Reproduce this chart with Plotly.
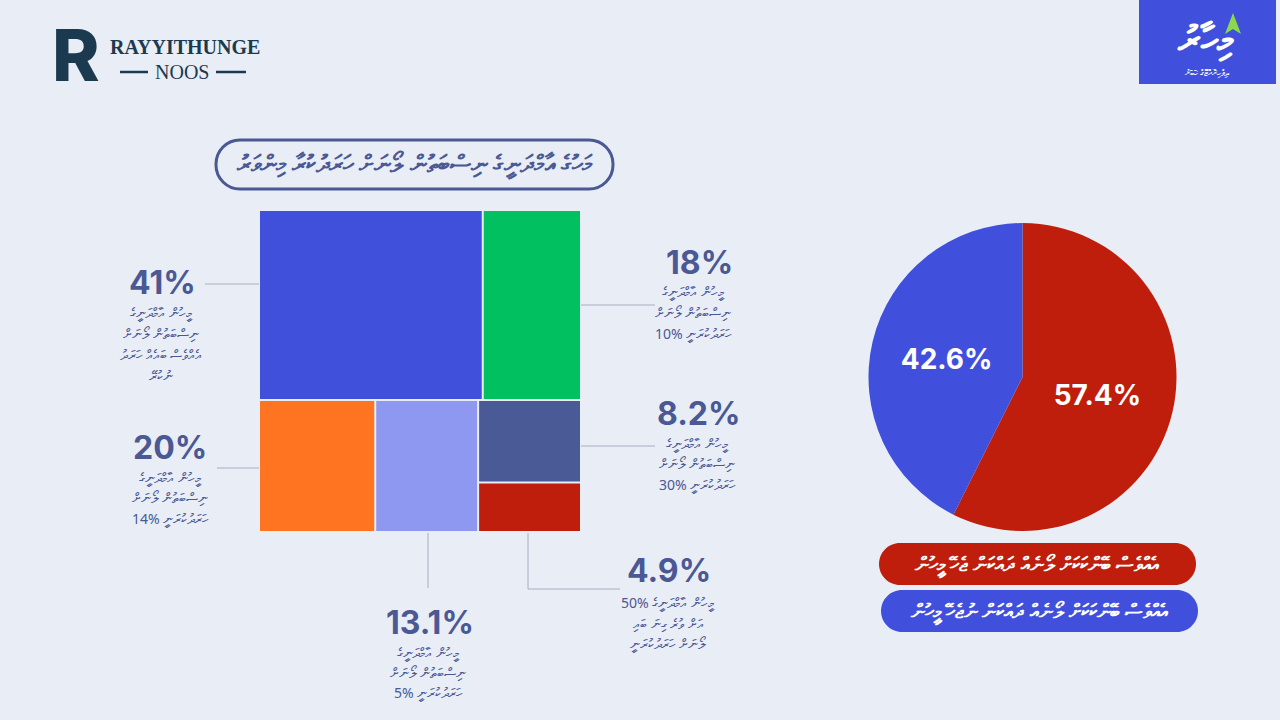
import plotly.graph_objects as go

W, H = 1280, 720
BG = "#E9EDF6"
SLATE = "#4A5894"
NAVY = "#1B3A4F"
RED = "#BE1E0B"
BLUE = "#4150DC"

# ---------------- data ----------------
TITLE = "މަހުގެ އާމްދަނީގެ ނިސްބަތުން ލޯނަށް ހަރަދުކުރާ މިންވަރު"

tile_ids = ["all", "top", "bottom", "t41", "t18", "t20", "t131", "stack", "t82", "t49"]
tile_parents = ["", "all", "all", "top", "top", "bottom", "bottom", "bottom", "stack", "stack"]
# tile areas (share of the square)
tile_area = [0, 0, 0, 41, 18, 14.8, 13.1, 0, 8.2, 4.9]
tile_colors = [BG, BG, BG, "#4050DB", "#00C060", "#FF7420", "#8F98F0", BG, "#4A5A96", "#BE1E0B"]

share_labels = ["41%", "18%", "20%", "13.1%", "8.2%", "4.9%"]
share_notes = [
    ["މީހުން އާމްދަނީގެ", "ނިސްބަތުން ލޯނަށް", "އެއްވެސް ބައެއް ހަރަދު", "ނުކުރޭ"],
    ["މީހުން އާމްދަނީގެ", "ނިސްބަތުން ލޯނަށް", "10% ހަރަދުކުރަނީ"],
    ["މީހުން އާމްދަނީގެ", "ނިސްބަތުން ލޯނަށް", "14% ހަރަދުކުރަނީ"],
    ["މީހުން އާމްދަނީގެ", "ނިސްބަތުން ލޯނަށް", "5% ހަރަދުކުރަނީ"],
    ["މީހުން އާމްދަނީގެ", "ނިސްބަތުން ލޯނަށް", "30% ހަރަދުކުރަނީ"],
    ["50% މީހުން އާމްދަނީގެ", "އަށް ވުރެ ގިނަ ބައި", "ލޯނަށް ހަރަދުކުރަނީ"],
]

pie_labels = [
    "އެއްވެސް ބޭންކަކަށް ލޯނެއް ދައްކަން ޖެހޭ މީހުން",
    "އެއްވެސް ބޭންކަކަށް ލޯނެއް ދައްކަން ނުޖެހޭ މީހުން",
]
pie_values = [57.4, 42.6]
pie_text = ["57.4%", "42.6%"]
pie_colors = [RED, BLUE]


def px(x):
    return x / W


def py(y):
    return 1 - y / H


fig = go.Figure()

fig.add_trace(go.Treemap(
    ids=tile_ids,
    labels=tile_ids,
    parents=tile_parents,
    values=tile_area,
    branchvalues="remainder",
    sort=False,
    marker=dict(colors=tile_colors, line=dict(width=0),
                pad=dict(t=0, l=0, r=0, b=0)),
    tiling=dict(packing="dice-slice", pad=2),
    pathbar=dict(visible=False),
    textinfo="none",
    hoverinfo="skip",
    domain=dict(x=[px(260), px(580)], y=[py(531), py(211)]),
))

fig.add_trace(go.Pie(
    labels=pie_labels,
    values=pie_values,
    text=pie_text,
    textinfo="text",
    textposition="inside",
    insidetextorientation="horizontal",
    textfont=dict(family="Inter", size=28, color="white", weight=700),
    marker=dict(colors=pie_colors, line=dict(width=0)),
    sort=False,
    direction="clockwise",
    rotation=0,
    showlegend=False,
    hoverinfo="skip",
    domain=dict(x=[px(868), px(1177)], y=[py(531), py(223)]),
))

shapes = []
annotations = []


def ann(x, y, text, size, color, weight=400, xanchor="center", family="Inter", style="normal"):
    annotations.append(dict(
        x=px(x), y=py(y), xref="paper", yref="paper", text=text, showarrow=False,
        xanchor=xanchor, yanchor="middle",
        font=dict(family=family, size=size, color=color, weight=weight, style=style)))


def line(pts, color="#A9AEC0", width=1):
    d = "M " + " L ".join(f"{px(x)},{py(y)}" for x, y in pts)
    shapes.append(dict(type="path", xref="paper", yref="paper", path=d,
                       line=dict(color=color, width=width)))


def rrect(x0, y0, x1, y1, r, fill=None, border=None, bw=0):
    k = 0.5523 * r
    P = lambda x, y: f"{px(x)},{py(y)}"
    d = (f"M {P(x0 + r, y0)} L {P(x1 - r, y0)} "
         f"C {P(x1 - r + k, y0)} {P(x1, y0 + r - k)} {P(x1, y0 + r)} "
         f"L {P(x1, y1 - r)} "
         f"C {P(x1, y1 - r + k)} {P(x1 - r + k, y1)} {P(x1 - r, y1)} "
         f"L {P(x0 + r, y1)} "
         f"C {P(x0 + r - k, y1)} {P(x0, y1 - r + k)} {P(x0, y1 - r)} "
         f"L {P(x0, y0 + r)} "
         f"C {P(x0, y0 + r - k)} {P(x0 + r - k, y0)} {P(x0 + r, y0)} Z")
    shapes.append(dict(type="path", xref="paper", yref="paper", path=d,
                       fillcolor=fill if fill else "rgba(0,0,0,0)",
                       line=dict(color=border if border else "rgba(0,0,0,0)", width=bw)))


# title pill
rrect(216, 140, 613, 189, 24, border=SLATE, bw=3)
ann(414, 163, TITLE, 24, SLATE, weight=700, family="Noto Sans")

# treemap labels with leader lines
label_pos = [
    (162, 283, 161, [312, 333, 354, 375]),
    (699, 262, 693, [291, 312, 333]),
    (170, 447, 170, [477, 497, 518]),
    (430, 622, 428, [652, 672, 692]),
    (699, 413, 697, [443, 463, 484]),
    (669, 570, 668, [602, 623, 643]),
]
for lab, notes, (x, y, nx, nys) in zip(share_labels, share_notes, label_pos):
    ann(x, y, lab, 32, SLATE, weight=700)
    for t, ny in zip(notes, nys):
        ann(nx, ny, t, 14, SLATE, family="Noto Sans")

line([(205, 284), (259, 284)])
line([(581, 305), (655, 305)])
line([(581, 446), (655, 446)])
line([(217, 468), (259, 468)])
line([(428, 533), (428, 588)])
line([(528, 533), (528, 589), (620, 589)])

# pie legend pills
rrect(879, 543, 1196, 585, 21, fill=RED)
ann(1037, 564, pie_labels[0], 20, "white", weight=700, family="Noto Sans")
rrect(881, 590, 1198, 632, 21, fill=BLUE)
ann(1039, 611, pie_labels[1], 20, "white", weight=700, family="Noto Sans")

# Rayyithunge Noos logo
ann(76, 55, "R", 72, NAVY, weight=800)
ann(185, 47, "RAYYITHUNGE", 20, NAVY, weight=700, family="Liberation Serif")
ann(182, 72, "NOOS", 20, NAVY, weight=400, family="Liberation Serif")
line([(120, 72), (148, 72)], color=NAVY, width=2.5)
line([(216, 72), (246, 72)], color=NAVY, width=2.5)

# top-right logo
shapes.append(dict(type="rect", xref="paper", yref="paper", x0=px(1139), x1=px(1276),
                   y0=py(84), y1=py(0), fillcolor=BLUE, line=dict(width=0)))
shapes.append(dict(type="path", xref="paper", yref="paper",
                   path=f"M {px(1233)},{py(13)} L {px(1241)},{py(34)} L {px(1233)},{py(29)} L {px(1225)},{py(34)} Z",
                   fillcolor="#8BD94A", line=dict(width=0)))
ann(1205, 38, "މިހާރު", 38, "white", weight=800, family="Noto Sans")
ann(1207, 73, "ދިވެހިރާއްޖޭގެ ޚަބަރު", 9, "white", family="Noto Sans")

fig.update_layout(
    width=W, height=H, autosize=False,
    margin=dict(l=0, r=0, t=0, b=0),
    paper_bgcolor=BG, plot_bgcolor=BG,
    shapes=shapes, annotations=annotations,
    showlegend=False,
)

fig.write_html("out.html")
